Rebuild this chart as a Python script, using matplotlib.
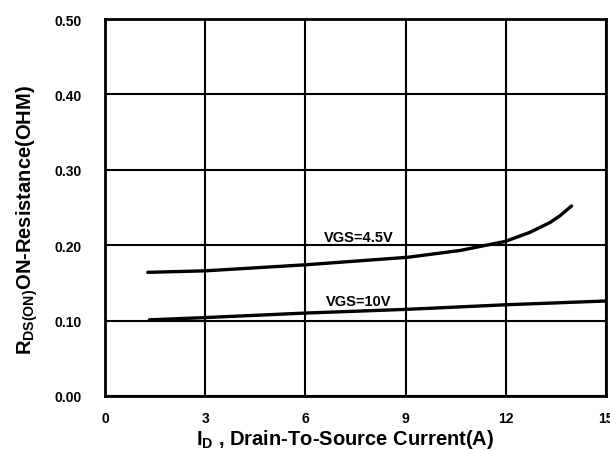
#!/usr/bin/env python3
"""On-resistance vs drain current for two gate drive levels."""
import matplotlib
matplotlib.use("Agg")
import matplotlib.pyplot as plt

plt.rcParams["font.family"] = ["Liberation Sans", "DejaVu Sans"]
plt.rcParams["font.weight"] = "bold"
plt.rcParams["mathtext.fontset"] = "custom"
plt.rcParams["mathtext.rm"] = "Liberation Sans:bold"
plt.rcParams["mathtext.it"] = "Liberation Sans:bold"

# VGS = 4.5 V
id_45 = [1.28, 3.0, 6.0, 9.07, 10.63, 11.98, 12.72, 13.32, 13.62, 13.97]
r_45 = [0.164, 0.166, 0.174, 0.184, 0.193, 0.205, 0.217, 0.230, 0.239, 0.252]
# VGS = 10 V
id_10 = [1.33, 3.0, 6.0, 9.07, 12.0, 15.0]
r_10 = [0.101, 0.104, 0.110, 0.115, 0.121, 0.126]

xticks = [0, 3, 6, 9, 12, 15]
yticks = [0.0, 0.1, 0.2, 0.3, 0.4, 0.5]

fig = plt.figure(figsize=(6.10, 4.52), dpi=100)
ax = fig.add_axes([105 / 610, 55 / 452, 501 / 610, 377 / 452])

ax.plot(id_45, r_45, color="black", lw=2.4, solid_capstyle="round", zorder=3)
ax.plot(id_10, r_10, color="black", lw=2.4, solid_capstyle="round", zorder=3)
ax.text(7.6, 0.211, "VGS=4.5V", ha="center", va="center", fontsize=10.5, fontweight="bold")
ax.text(7.6, 0.126, "VGS=10V", ha="center", va="center", fontsize=10.5, fontweight="bold")

ax.set_xlim(0, 15)
ax.set_ylim(0, 0.5)
ax.set_xticks(xticks)
ax.set_yticks(yticks)
ax.set_xticklabels([str(t) for t in xticks])
ax.set_yticklabels([f"{t:.2f}" for t in yticks])
ax.tick_params(length=0, labelsize=10, pad=11)
ax.tick_params(axis="y", pad=17)
for lab in ax.get_xticklabels() + ax.get_yticklabels():
    lab.set_fontweight("bold")
ax.grid(True, color="black", lw=1.5)
for sp in ax.spines.values():
    sp.set_linewidth(2)

fig.text(27 / 610, 1 - 220 / 452, r"R$\mathrm{_{DS(ON)}}$ON-Resistance(OHM)",
         rotation=90, ha="center", va="center", fontsize=14.5, fontweight="bold")
fig.text(345 / 610, 1 - 445 / 452, r"I$\mathrm{_{D}}$ , Drain-To-Source Current(A)",
         ha="center", va="baseline", fontsize=14.5, fontweight="bold")

fig.savefig("out.png", dpi=100)
